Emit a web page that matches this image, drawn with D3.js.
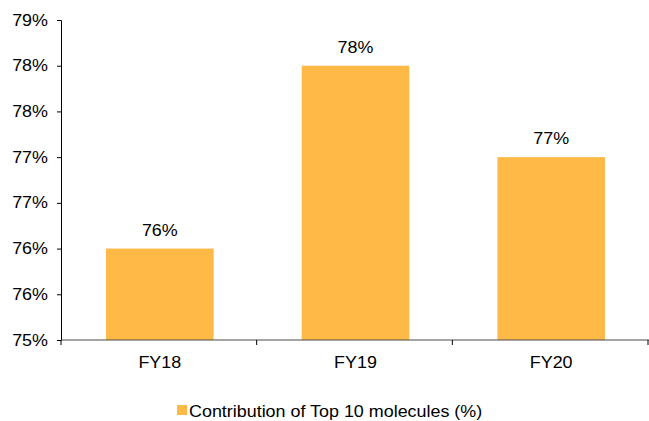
<!DOCTYPE html>
<html>
<head>
<meta charset="utf-8">
<script src="https://cdn.jsdelivr.net/npm/d3@7"></script>
<style>
  html, body { margin: 0; padding: 0; background: #fff; }
  svg { display: block; font-family: "Liberation Sans", Arial, sans-serif; }
</style>
</head>
<body>
<svg id="chart" width="649" height="421"></svg>
<script>
// Contribution of the top 10 molecules to revenue, by fiscal year
const categories = ["FY18", "FY19", "FY20"];
const contribution = [76, 78, 77];
const yTicks = [75, 75.5, 76, 76.5, 77, 77.5, 78, 78.5];
const seriesName = "Contribution of Top 10 molecules (%)";

const svg = d3.select("#chart");
const W = 649, H = 421;
const plotLeft = 61, plotRight = 648, plotTop = 20, plotBottom = 340;
const barColor = "#FFB946";
const fontSize = 16;
const stretch = 1.12; // glyphs are drawn slightly wide

// draw a label at (x, y) with a slight horizontal stretch
function label(g, x, y, txt, anchor) {
  g.append("text")
    .attr("transform", `translate(${x},${y}) scale(${stretch},1)`)
    .attr("text-anchor", anchor)
    .attr("font-size", fontSize)
    .attr("fill", "#000")
    .text(txt);
}

const x = d3.scaleBand()
  .domain(categories)
  .range([plotLeft + 1, plotRight + 1])
  .paddingInner(0.45)
  .paddingOuter(0.225);

const y = d3.scaleLinear()
  .domain([75, 78.5])
  .range([plotBottom, plotTop]);

// bars
svg.append("g").selectAll("rect")
  .data(categories)
  .join("rect")
  .attr("x", d => x(d))
  .attr("width", x.bandwidth())
  .attr("y", (d, i) => y(contribution[i]))
  .attr("height", (d, i) => y(75) - y(contribution[i]))
  .attr("fill", barColor);

// value labels
const valG = svg.append("g");
categories.forEach((c, i) => {
  label(valG, x(c) + x.bandwidth() / 2, y(contribution[i]) - 13,
    d3.format(".0f")(contribution[i]) + "%", "middle");
});

// y axis
const yAxis = svg.append("g")
  .attr("transform", `translate(${plotLeft},0)`)
  .call(d3.axisLeft(y).tickValues(yTicks).tickSize(4).tickFormat(""));
yAxis.select(".domain").attr("stroke", "#000").attr("stroke-width", 1);
yAxis.selectAll(".tick line").attr("stroke", "#000");
const yLab = svg.append("g");
yTicks.forEach(v => {
  label(yLab, plotLeft - 13, y(v) + 5.5, Math.round(v) + "%", "end");
});

// x axis with ticks between categories
const xAxisG = svg.append("g")
  .attr("transform", `translate(0,${plotBottom})`);
xAxisG.append("line")
  .attr("x1", plotLeft).attr("x2", W)
  .attr("stroke", "#4a4a4a").attr("stroke-width", 1.2);
const boundaries = d3.range(categories.length + 1)
  .map(i => plotLeft + i * (plotRight - plotLeft) / categories.length);
xAxisG.selectAll("line.tk")
  .data(boundaries)
  .join("line")
  .attr("class", "tk")
  .attr("x1", d => d).attr("x2", d => d)
  .attr("y1", 0).attr("y2", 5)
  .attr("stroke", "#000");
categories.forEach(c => {
  label(xAxisG, x(c) + x.bandwidth() / 2, 28, c, "middle");
});

// legend, kept clear of the bottom edge
const legend = svg.append("g").attr("transform", "translate(177,405)");
legend.append("rect").attr("width", 10).attr("height", 10).attr("fill", barColor);
label(legend, 12, 12, seriesName, "start");
</script>
</body>
</html>
